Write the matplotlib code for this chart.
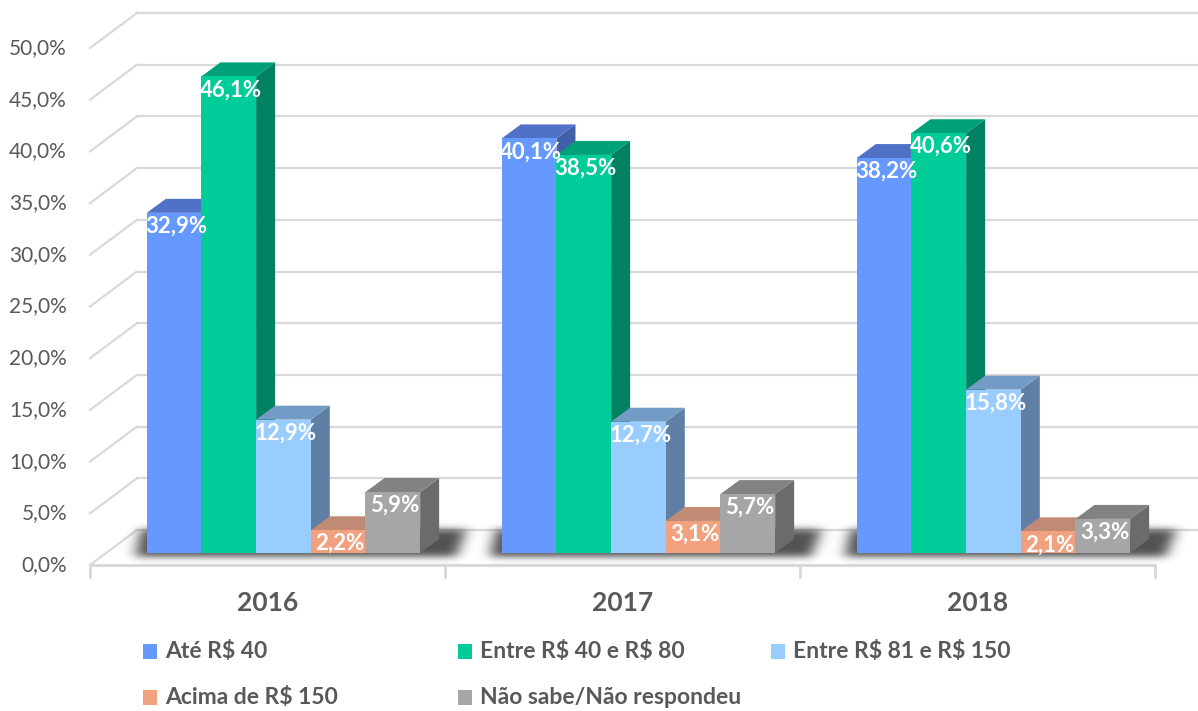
import numpy as np
import matplotlib
matplotlib.use("Agg")
import matplotlib.pyplot as plt
from matplotlib.patches import Polygon, Rectangle
from matplotlib.path import Path

plt.rcParams['font.family'] = ['Lato', 'DejaVu Sans']

# ---------------- data ----------------
categories = ["2016", "2017", "2018"]
series_names = ["Até R$ 40", "Entre R$ 40 e R$ 80", "Entre R$ 81 e R$ 150",
                "Acima de R$ 150", "Não sabe/Não respondeu"]
ate_40 = [32.9, 40.1, 38.2]
entre_40_80 = [46.1, 38.5, 40.6]
entre_81_150 = [12.9, 12.7, 15.8]
acima_150 = [2.2, 3.1, 2.1]
nao_sabe = [5.9, 5.7, 3.3]
series_values = [ate_40, entre_40_80, entre_81_150, acima_150, nao_sabe]
y_ticks = [0, 5, 10, 15, 20, 25, 30, 35, 40, 45, 50]

# ---------------- styles ----------------
front_colors = ["#6699FF", "#00CC99", "#99CCFF", "#F2A17F", "#A6A6A6"]
top_colors = ["#4F72C6", "#00A079", "#729CC6", "#C08A74", "#828282"]
side_colors = ["#3F5FA8", "#008262", "#5F7FA4", "#A8725C", "#6B6B6B"]
grid_color = "#D9D9D9"
text_gray = "#595959"

W, H, DPI = 1198, 711, 100
fig = plt.figure(figsize=(W / DPI, H / DPI), dpi=DPI)
ax = fig.add_axes([0, 0, 1, 1])
XPX, YPX = 355.0, 10.34          # pixels per data unit
XLIM = (-0.5 - 90 / XPX, -0.5 - 90 / XPX + W / XPX)
YLIM = (-(H - 565) / YPX, 565 / YPX)
ax.set_xlim(*XLIM)
ax.set_ylim(*YLIM)
ax.axis("off")

# 3D geometry (data units)
bw = 0.154                 # bar width
fx, fy = 0.045, 1.16       # offset of bar front plane
ddx, ddy = 0.0535, 1.35    # bar depth
wx, wy = 0.132, 3.38       # offset of back wall
cats = np.arange(len(categories))
x0, x1 = -0.5, len(categories) - 0.5

# ---- walls & gridlines ----
for v in y_ticks:
    ax.plot([x0, x0 + wx], [v, v + wy], color=grid_color, lw=1.6, zorder=1)
    ax.plot([x0 + wx, x1 + wx], [v + wy, v + wy], color=grid_color, lw=1.6, zorder=1)
    ax.text(x0 - 0.065, v, f"{v:.1f}%".replace(".", ","), ha="right", va="center",
            fontsize=15, color=text_gray)
# floor front edge and ticks
ax.plot([x0, x1], [0, 0], color=grid_color, lw=2.2, zorder=1)
for t in np.arange(len(categories) + 1) - 0.5:
    ax.plot([t, t], [0, -1.2], color=grid_color, lw=2.0, zorder=1)
for c, lab in zip(cats, categories):
    ax.text(c, -3.7, lab, ha="center", va="center", fontsize=19,
            fontweight="bold", color=text_gray)

# ---- floor shadows (blurred) ----
ext = (x0 - 0.1, x1 + 0.15, -2.0, 6.0)
nx = int((ext[1] - ext[0]) * XPX)
ny = int((ext[3] - ext[2]) * YPX)
xs = np.linspace(ext[0], ext[1], nx)
ys = np.linspace(ext[2], ext[3], ny)
X, Y = np.meshgrid(xs, ys)
pts = np.c_[X.ravel(), Y.ravel()]
mask = np.zeros(X.shape)
nser = len(series_values)
for c in cats:
    gl = c - nser / 2 * bw + fx
    gr = c + nser / 2 * bw + fx + ddx
    poly = [(gl - 0.035, fy - 0.35), (gr + 0.045, fy - 0.35),
            (gr + 0.075, fy + 2.3), (gl - 0.02, fy + 2.3)]
    mask += Path(poly).contains_points(pts).reshape(X.shape)
sig = 6.5
k = np.exp(-0.5 * (np.arange(-22, 23) / sig) ** 2)
k /= k.sum()
blur = np.apply_along_axis(lambda r: np.convolve(r, k, mode="same"), 1, mask)
k2 = np.exp(-0.5 * (np.arange(-12, 13) / 3.5) ** 2)
k2 /= k2.sum()
blur = np.apply_along_axis(lambda r: np.convolve(r, k2, mode="same"), 0, blur)
rgba = np.zeros((ny, nx, 4))
rgba[..., :3] = 0.15
rgba[..., 3] = np.clip(blur, 0, 1) * 0.8
ax.imshow(rgba, extent=ext, origin="lower", aspect="auto", zorder=2,
          interpolation="bilinear")
ax.set_xlim(*XLIM)
ax.set_ylim(*YLIM)

# ---- 3D bars ----
for i, vals in enumerate(series_values):
    lefts = cats + (i - nser / 2) * bw + fx
    z = 3 + i * 0.1
    for l, h in zip(lefts, vals):
        side = [(l + bw, fy), (l + bw + ddx, fy + ddy),
                (l + bw + ddx, fy + h + ddy), (l + bw, fy + h)]
        top = [(l, fy + h), (l + bw, fy + h),
               (l + bw + ddx, fy + h + ddy), (l + ddx, fy + h + ddy)]
        ax.add_patch(Polygon(side, closed=True, fc=side_colors[i], ec="none", zorder=z))
        ax.add_patch(Polygon(top, closed=True, fc=top_colors[i], ec="none", zorder=z + 0.01))
    ax.bar(lefts, vals, width=bw, bottom=fy, align="edge", color=front_colors[i],
           edgecolor="none", zorder=z + 0.02)
    for l, h in zip(lefts, vals):
        ax.text(l + bw / 2 + 0.005, fy + h - 1.3, f"{h:.1f}%".replace(".", ","),
                ha="center", va="center", color="white", fontweight="bold",
                fontsize=16, zorder=10)

# ---- legend (manual, Excel-like fixed columns) ----
leg_pos = [(143, 651), (458, 651), (771, 651), (143, 697), (458, 697)]
for (px, py), name, col in zip(leg_pos, series_names, front_colors):
    fig.patches.append(Rectangle((px / W, 1 - (py + 7.5) / H), 14 / W, 15 / H,
                                 transform=fig.transFigure, fc=col, ec="none"))
    fig.text((px + 22) / W, 1 - py / H, name, ha="left", va="center",
             fontsize=16.5, fontweight="bold", color=text_gray, parse_math=False)

fig.savefig("out.png", dpi=DPI)
